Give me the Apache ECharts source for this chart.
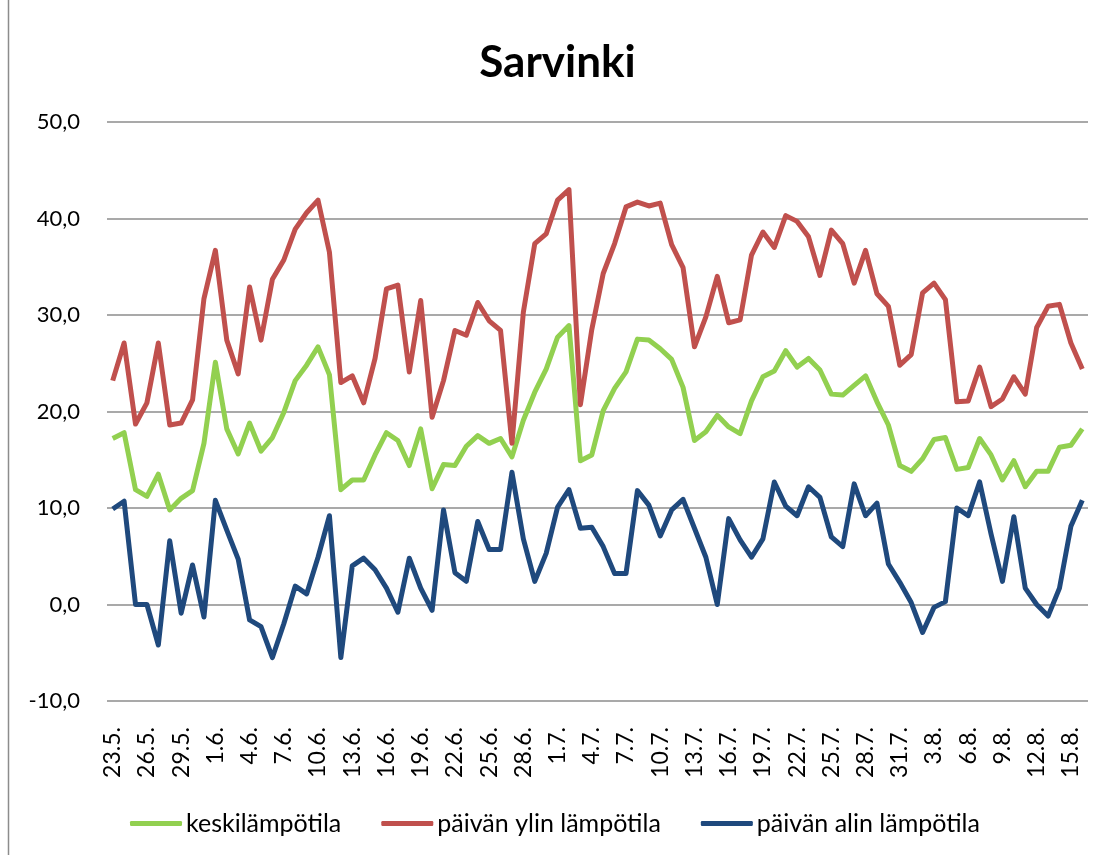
<!DOCTYPE html>
<html>
<head>
    <meta charset="utf-8">
    <title>Sarvinki</title>
    <script src="https://cdn.jsdelivr.net/npm/echarts@6/dist/echarts.min.js"></script>
    <style>
        html, body { margin: 0; padding: 0; background: #fff; }
        #chart { width: 1115px; height: 855px; }
    </style>
</head>
<body>
<div id="chart"></div>
<script>
    // päivämäärät 23.5. - 16.8.
    const paivat = [
        '23.5.', '24.5.', '25.5.', '26.5.', '27.5.', '28.5.', '29.5.', '30.5.', '31.5.',
        '1.6.', '2.6.', '3.6.', '4.6.', '5.6.', '6.6.', '7.6.', '8.6.', '9.6.', '10.6.',
        '11.6.', '12.6.', '13.6.', '14.6.', '15.6.', '16.6.', '17.6.', '18.6.', '19.6.', '20.6.',
        '21.6.', '22.6.', '23.6.', '24.6.', '25.6.', '26.6.', '27.6.', '28.6.', '29.6.', '30.6.',
        '1.7.', '2.7.', '3.7.', '4.7.', '5.7.', '6.7.', '7.7.', '8.7.', '9.7.', '10.7.',
        '11.7.', '12.7.', '13.7.', '14.7.', '15.7.', '16.7.', '17.7.', '18.7.', '19.7.', '20.7.',
        '21.7.', '22.7.', '23.7.', '24.7.', '25.7.', '26.7.', '27.7.', '28.7.', '29.7.', '30.7.',
        '31.7.', '1.8.', '2.8.', '3.8.', '4.8.', '5.8.', '6.8.', '7.8.', '8.8.', '9.8.',
        '10.8.', '11.8.', '12.8.', '13.8.', '14.8.', '15.8.', '16.8.'
    ];

    // keskilämpötila
    const keski = [
        17.2, 17.8, 11.9, 11.2, 13.5, 9.8, 11.0, 11.8, 16.7, 25.1,
        18.2, 15.6, 18.8, 15.9, 17.3, 19.9, 23.2, 24.8, 26.7, 23.8,
        11.9, 12.9, 12.9, 15.5, 17.8, 17.0, 14.4, 18.2, 12.0, 14.5,
        14.4, 16.4, 17.5, 16.7, 17.2, 15.3, 19.1, 22.0, 24.4, 27.7,
        28.9, 14.9, 15.5, 20.1, 22.4, 24.1, 27.5, 27.4, 26.5, 25.4,
        22.5, 17.0, 17.9, 19.6, 18.4, 17.7, 21.1, 23.6, 24.2, 26.3,
        24.6, 25.5, 24.3, 21.8, 21.7, 22.7, 23.7, 21.0, 18.6, 14.4,
        13.8, 15.1, 17.1, 17.3, 14.0, 14.2, 17.2, 15.5, 12.9, 14.9,
        12.2, 13.8, 13.8, 16.3, 16.5, 18.2
    ];

    // päivän ylin lämpötila
    const ylin = [
        23.2, 27.1, 18.7, 20.9, 27.1, 18.6, 18.8, 21.2, 31.7, 36.7,
        27.4, 23.9, 32.9, 27.4, 33.7, 35.7, 38.9, 40.6, 41.9, 36.5,
        23.0, 23.7, 20.9, 25.5, 32.7, 33.1, 24.1, 31.5, 19.4, 23.2,
        28.4, 27.9, 31.3, 29.4, 28.4, 16.7, 30.3, 37.4, 38.4, 41.9,
        43.0, 20.7, 28.5, 34.3, 37.4, 41.2, 41.7, 41.3, 41.6, 37.3,
        34.9, 26.7, 29.8, 34.0, 29.2, 29.5, 36.2, 38.6, 37.0, 40.3,
        39.7, 38.1, 34.1, 38.8, 37.4, 33.3, 36.7, 32.2, 30.9, 24.8,
        25.9, 32.3, 33.3, 31.6, 21.0, 21.1, 24.6, 20.5, 21.3, 23.6,
        21.8, 28.7, 30.9, 31.1, 27.1, 24.4
    ];

    // päivän alin lämpötila
    const alin = [
        9.9, 10.7, 0.0, 0.0, -4.2, 6.6, -0.9, 4.1, -1.3, 10.8,
        7.7, 4.7, -1.6, -2.3, -5.5, -2.0, 1.9, 1.1, 4.9, 9.2,
        -5.5, 4.0, 4.8, 3.6, 1.7, -0.8, 4.8, 1.7, -0.6, 9.8,
        3.3, 2.4, 8.6, 5.7, 5.7, 13.7, 6.8, 2.4, 5.3, 10.1,
        11.9, 7.9, 8.0, 6.0, 3.2, 3.2, 11.8, 10.3, 7.1, 9.8,
        10.9, 7.9, 4.9, 0.0, 8.9, 6.7, 4.9, 6.8, 12.7, 10.2,
        9.2, 12.2, 11.1, 7.0, 6.0, 12.5, 9.2, 10.5, 4.2, 2.3,
        0.2, -2.9, -0.3, 0.3, 10.0, 9.2, 12.7, 7.3, 2.4, 9.1,
        1.7, 0.0, -1.2, 1.7, 8.1, 10.8
    ];

    const fontti = 'Lato, "Noto Sans", sans-serif';

    let myChart = echarts.init(document.getElementById('chart'), null, { renderer: 'canvas' });

    myChart.setOption({
        backgroundColor: '#ffffff',
        animation: false,
        title: {
            text: 'Sarvinki',
            left: 'center',
            top: 36,
            textStyle: { fontFamily: fontti, fontSize: 44, fontWeight: 'bold', color: '#000' }
        },
        legend: {
            left: 125,
            top: 806,
            itemWidth: 52,
            itemHeight: 5,
            itemGap: 40,
            icon: 'roundRect',
            textStyle: { fontFamily: fontti, fontSize: 25, color: '#000', padding: [0, 0, 0, -1] },
            data: ['keskilämpötila', 'päivän ylin lämpötila', 'päivän alin lämpötila']
        },
        grid: {
            left: 107,
            right: 27,
            top: 122,
            bottom: 154
        },
        xAxis: {
            type: 'category',
            boundaryGap: true,
            data: paivat,
            axisLine: { show: false },
            axisTick: { show: false },
            axisLabel: {
                interval: 2,
                rotate: 90,
                margin: 26,
                fontFamily: fontti,
                fontSize: 23,
                color: '#000'
            }
        },
        yAxis: {
            type: 'value',
            min: -10,
            max: 50,
            interval: 10,
            axisLine: { show: false },
            axisTick: { show: false },
            splitLine: { lineStyle: { color: '#8c8c8c', width: 1.5 } },
            axisLabel: {
                margin: 27,
                fontFamily: fontti,
                fontSize: 22,
                color: '#000',
                formatter: (v) => v.toFixed(1).replace('.', ',')
            }
        },
        series: [
            {
                name: 'keskilämpötila',
                type: 'line',
                data: keski,
                symbol: 'none',
                itemStyle: { color: '#92d050' },
                lineStyle: { color: '#92d050', width: 5, join: 'round' }
            },
            {
                name: 'päivän ylin lämpötila',
                type: 'line',
                data: ylin,
                symbol: 'none',
                itemStyle: { color: '#c0504d' },
                lineStyle: { color: '#c0504d', width: 5, join: 'round' }
            },
            {
                name: 'päivän alin lämpötila',
                type: 'line',
                data: alin,
                symbol: 'none',
                itemStyle: { color: '#1f497d' },
                lineStyle: { color: '#1f497d', width: 5, join: 'round' }
            }
        ],
        graphic: [
            {
                // kaavion reunaviiva vasemmalla
                type: 'line',
                shape: { x1: 8.5, y1: 0, x2: 8.5, y2: 855 },
                style: { stroke: '#8c8c8c', lineWidth: 1.5 }
            }
        ]
    });
</script>
</body>
</html>
